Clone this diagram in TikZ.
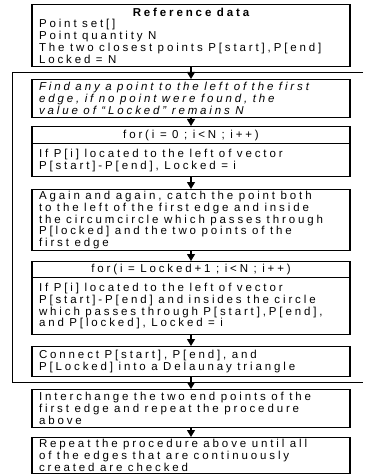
\documentclass[tikz,border=0pt]{standalone}
\usepackage{fontspec}
\setmainfont{Liberation Sans}[LetterSpace=25]
\usetikzlibrary{arrows.meta}
\newcommand\tl[1]{\mbox{\spaceskip=5.5pt\relax\xspaceskip=5.5pt\relax #1}}
\newcommand\reftext{\fontsize{11.5pt}{11.8pt}\selectfont}
\begin{document}
\begin{tikzpicture}[x=1pt,y=-1pt,
  box/.style={draw, line width=1.3pt, anchor=north, minimum width=318pt,
    text width=304pt, inner xsep=7pt, inner ysep=0pt, align=left,
    font=\reftext},
  hbox/.style={box, align=center},
  ibox/.style={box, font=\reftext\itshape},
  flow/.style={line width=1.1pt, -{Triangle[width=8pt,length=7pt]}},
  loopline/.style={line width=0.9pt}]
\useasboundingbox (0,0) rectangle (365,476);
% boxes
\node[box, minimum height=62pt] (b1) at (191,4)
  {\makebox[304pt][c]{\bfseries\tl{Reference data}}\\
   \tl{Point set[]}\\
   \tl{Point quantity N}\\
   \tl{The two closest points P[start],P[end]}\\
   \tl{Locked = N}};
\node[ibox, minimum height=38pt] (b2) at (191,79)
  {\tl{Find any a point to the left of the first}\\
   \tl{edge, if no point were found, the}\\
   \tl{value of “Locked” remains N}};
\node[hbox, minimum height=17pt] (b3h) at (191,126) {\tl{for(i = 0 ; i<N ; i++)}};
\node[box, minimum height=33pt] (b3b) at (191,143)
  {\tl{If P[i] located to the left of vector}\\
   \tl{P[start]-P[end], Locked = i}};
\node[box, minimum height=61pt] (b4) at (191,189)
  {\tl{Again and again, catch the point both}\\
   \tl{to the left of the first edge and inside}\\
   \tl{the circumcircle which passes through}\\
   \tl{P[locked] and the two points of the}\\
   \tl{first edge}};
\node[hbox, minimum height=16pt] (b5h) at (191,261) {\tl{for(i = Locked+1 ; i<N ; i++)}};
\node[box, minimum height=57pt] (b5b) at (191,277)
  {\tl{If P[i] located to the left of vector}\\
   \tl{P[start]-P[end] and insides the circle}\\
   \tl{which passes through P[start],P[end],}\\
   \tl{and P[locked], Locked = i}};
\node[box, minimum height=30pt] (b6) at (191,346)
  {\tl{Connect P[start], P[end], and}\\
   \tl{P[Locked] into a Delaunay triangle}};
\node[box, minimum height=38pt] (b7) at (191,389)
  {\tl{Interchange the two end points of the}\\
   \tl{first edge and repeat the procedure}\\
   \tl{above}};
\node[box, minimum height=36pt] (b8) at (191,437)
  {\tl{Repeat the procedure above until all}\\
   \tl{of the edges that are continuously}\\
   \tl{created are checked}};
% loop bracket
\coordinate (otr) at (363,72);
\coordinate (otl) at (12,72);
\coordinate (obl) at (12,382);
\coordinate (obr) at (363,382);
\draw[loopline] (otr) -- (otl) -- (obl) -- (obr);
% arrows
\draw[flow] (b1.south) -- (b2.north);
\draw[flow] (b2.south) -- (b3h.north);
\draw[flow] (b3b.south) -- (b4.north);
\draw[flow] (b4.south) -- (b5h.north);
\draw[flow] (b5b.south) -- (b6.north);
\draw[flow] (b6.south) -- (b7.north);
\draw[flow] (b7.south) -- (b8.north);
\end{tikzpicture}
\end{document}
